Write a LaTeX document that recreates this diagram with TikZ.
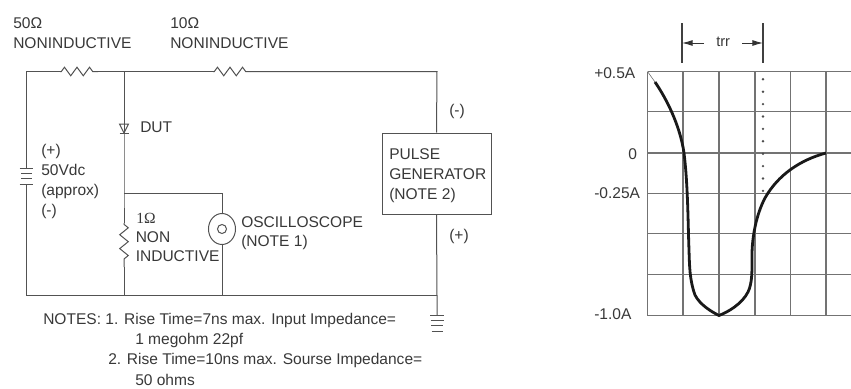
\documentclass[tikz,border=0pt]{standalone}
\usepackage{fontspec}
\setmainfont{Liberation Sans}
\newfontfamily\serifomega{Liberation Serif}
\usetikzlibrary{arrows, arrows.meta, decorations.pathmorphing, shapes.geometric}

\begin{document}
\begin{tikzpicture}[
            x=.75pt, y=-.75pt,
            wire/.style={line width=.75pt, draw=black!68},
            zigzagres/.style={wire, decorate, decoration={zigzag, segment length=#1, amplitude=3.2pt, pre length=1pt, post length=1pt}},
            zigzagres/.default=9.4pt,
            gridline/.style={line width=.8pt, draw=black!55},
            label/.style={font=\fontsize{11.65pt}{15pt}\selectfont, text=black!78, inner sep=0pt, anchor=west, align=left},
            label small/.style={label, font=\fontsize{11pt}{15pt}\selectfont}
        ]
        \useasboundingbox (0, 0) rectangle (851, 389);

        \coordinate (topLeft) at (26, 71.5);
        \coordinate (res50a) at (60, 71.5);
        \coordinate (res50b) at (98, 71.5);
        \coordinate (topMid) at (124, 71.5);
        \coordinate (res10a) at (213, 71.5);
        \coordinate (res10b) at (250, 71.5);
        \coordinate (topRight) at (437, 71.5);
        \coordinate (batTop) at (26, 168);
        \coordinate (batBot) at (26, 184);
        \coordinate (botLeft) at (26, 295.5);
        \coordinate (botMid) at (124, 295.5);
        \coordinate (botScope) at (222, 295.5);
        \coordinate (botRight) at (437, 295.5);
        \coordinate (gndTop) at (437, 315);
        \coordinate (dutTop) at (124, 124);
        \coordinate (dutBot) at (124, 133);
        \coordinate (tapMid) at (124, 193.5);
        \coordinate (tapScope) at (222, 193.5);
        \coordinate (res1a) at (124, 223);
        \coordinate (res1b) at (124, 267);

        \node (pulse) at (436.5, 173.5)[draw=black!68, line width=.75pt, minimum width=81.75pt, minimum height=60.75pt, inner sep=0pt]{};
        \node (scopeOuter) at (222, 229)[draw=black!68, line width=.75pt, ellipse, minimum width=20.25pt, minimum height=23.25pt, inner sep=0pt]{};
        \node (scopeInner) at (222, 229)[draw=black!68, line width=.75pt, circle, minimum size=6.75pt, inner sep=0pt]{};

        \draw[wire] (batTop) -- (topLeft) -- (res50a);
        \draw[zigzagres] (res50a) -- (res50b);
        \draw[wire] (res50b) -- (topMid) -- (res10a);
        \draw[zigzagres] (res10a) -- (res10b);
        \draw[wire] (res10b) -- (topRight) -- (pulse.north);
        \draw[wire] (pulse.south) -- (botRight) -- (gndTop);
        \draw[wire] (batBot) -- (botLeft) -- (botRight);

        \draw[wire] (topMid) -- (dutBot);
        \draw[wire] (dutBot) -- (tapMid) -- (res1a);
        \draw[zigzagres=10.4pt] (res1a) -- (res1b);
        \draw[wire] (res1b) -- (botMid);
        \draw[wire] (tapMid) -- (tapScope) -- (scopeOuter.north);
        \draw[wire] (scopeOuter.south) -- (botScope);

        % diode
        \draw[wire] (119.5, 124) -- (128.5, 124) -- (dutBot) -- cycle;
        \draw[wire] (119.5, 133) -- (128.5, 133);

        % battery
        \draw[wire] (19.5, 168) -- (33, 168);
        \draw[wire] (21, 173) -- (31.5, 173);
        \draw[wire] (21, 178) -- (31.5, 178);
        \draw[wire] (19.5, 184) -- (33, 184);

        % ground
        \foreach \y/\w in {315/7, 320.3/6.5, 325.6/6, 331/5.5}
            \draw[wire] ({437 - \w}, \y) -- ({437 + \w}, \y);

        \node (lab50) at (13, 23)[label]{50Ω};
        \node (lab50n) at (13, 43)[label]{NONINDUCTIVE};
        \node (lab10) at (170, 23)[label]{10Ω};
        \node (lab10n) at (170, 43)[label]{NONINDUCTIVE};
        \node (labDut) at (140, 127)[label]{DUT};
        \node (labBat) at (41, 181.5)[label]{(+)\\50Vdc\\(approx)\\(-)};
        \node (labOne) at (136, 218)[label]{\serifomega 1Ω};
        \node (labNon) at (135.5, 237)[label]{NON};
        \node (labInd) at (135.5, 256)[label]{INDUCTIVE};
        \node (labScope) at (241, 222)[label]{OSCILLOSCOPE};
        \node (labNote) at (241, 242)[label]{(NOTE 1)};
        \node (labPulse) at (389, 175.5)[label]{PULSE\\GENERATOR\\(NOTE 2)};
        \node (labMinus) at (449, 111)[label]{(-)};
        \node (labPlus) at (449, 236)[label]{(+)};
        \node (note1) at (43, 320)[label]{NOTES: 1. Rise Time=7ns max. Input Impedance=};
        \node (note1b) at (135, 340)[label]{1 megohm 22pf};
        \node (note2) at (108, 360)[label]{2. Rise Time=10ns max. Sourse Impedance=};
        \node (note2b) at (135, 380)[label]{50 ohms};

        % scope trace
        \foreach \x in {647.5, 683, 719, 755, 790.5, 826}
            \draw[gridline] (\x, 71.5) -- (\x, 315.5);
        \foreach \y in {71.5, 111.5, 153, 193.5, 233.5, 274.5, 315.5}
            \draw[gridline] (647.5, \y) -- (851, \y);

        \foreach \n in {0, ..., 9}
            \node (dot\n) at (763, {79.3 + 12.4 * \n})[circle, fill=black!70, inner sep=0pt, minimum size=2pt]{};

        \draw[line width=.4pt, black!60] (647.5, 71.5) -- (655, 82);
        \draw[line width=2.1pt, black!90] (655, 82)
            .. controls (666, 98) and (680, 125) .. (684, 153)
            .. controls (688, 185) and (688, 225) .. (689, 250)
            .. controls (689.5, 265) and (689.5, 280) .. (695, 295)
            .. controls (700, 305) and (712, 312) .. (719, 315.5)
            .. controls (728, 312) and (742, 304) .. (748, 292)
            .. controls (752.5, 283) and (752, 270) .. (752, 255)
            .. controls (752, 238) and (756, 215) .. (765, 198)
            .. controls (778, 175) and (800, 160) .. (826, 153);

        \coordinate (trrLa) at (682, 23);
        \coordinate (trrLb) at (682, 63);
        \coordinate (trrRa) at (763, 23);
        \coordinate (trrRb) at (763, 63);
        \coordinate (trrLi) at (704, 43);
        \coordinate (trrLo) at (682, 43);
        \coordinate (trrRi) at (742, 43);
        \coordinate (trrRo) at (763, 43);
        \draw[line width=.9pt, black!75] (trrLa) -- (trrLb);
        \draw[line width=.9pt, black!75] (trrRa) -- (trrRb);
        \draw[-{Latex[length=8pt, width=4.5pt]}, line width=.7pt, black!80] (trrLi) -- (trrLo);
        \draw[-{Latex[length=8pt, width=4.5pt]}, line width=.7pt, black!80] (trrRi) -- (trrRo);
        \node (labTrr) at (716, 42)[label small]{trr};

        \node (labHalf) at (594, 73)[label]{+0.5A};
        \node (labZero) at (628, 154)[label]{0};
        \node (labQuart) at (594, 193)[label]{-0.25A};
        \node (labOneA) at (594, 314)[label]{-1.0A};
    \end{tikzpicture}
\end{document}
